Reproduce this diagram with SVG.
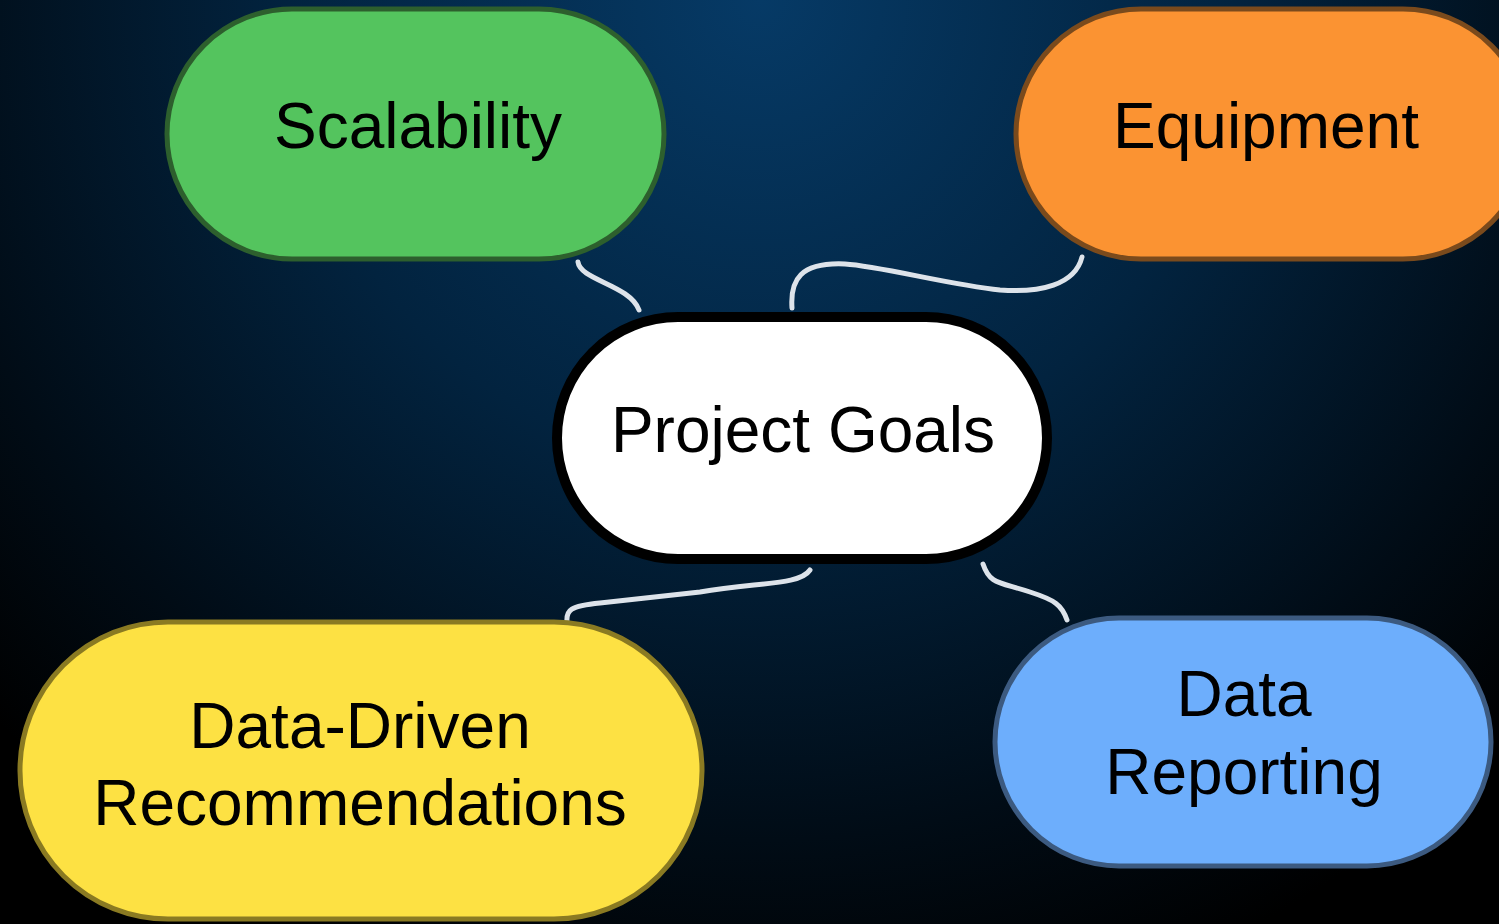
<svg xmlns="http://www.w3.org/2000/svg" width="1499" height="924" viewBox="0 0 1499 924">
<defs>
<radialGradient id="bg" cx="760" cy="0" r="1050" gradientUnits="userSpaceOnUse">
<stop offset="0" stop-color="#063a66"/>
<stop offset="0.45" stop-color="#02233f"/>
<stop offset="0.8" stop-color="#010c16"/>
<stop offset="1" stop-color="#000000"/>
</radialGradient>
<style>
.lbl{font-family:"Liberation Sans",Arial,sans-serif;font-size:64px;fill:#000;text-anchor:middle}
.edge{fill:none;stroke:#dde3ea;stroke-width:5;stroke-linecap:round}
</style>
</defs>
<rect width="1499" height="924" fill="url(#bg)"/>
<g id="connectors">
<path class="edge" d="M578,262 C580,280 630,285 639,310"/>
<path class="edge" d="M792,308 C790,280 800,262 845,264 C880,266 950,285 1000,290 C1040,293 1075,285 1082,257"/>
<path class="edge" d="M810,570 C800,585 760,582 700,592 L600,603 C570,606 566,610 567,622"/>
<path class="edge" d="M983,564 C990,585 1000,582 1030,592 C1055,600 1062,605 1067,620"/>
</g>
<g id="scalability">
<rect x="167" y="9" width="497" height="250" rx="125" fill="#54c45e" stroke="#2d5f2d" stroke-width="5"/>
<text class="lbl" x="418" y="148">Scalability</text>
</g>
<g id="equipment">
<rect x="1016" y="9" width="512" height="250" rx="125" fill="#fb9332" stroke="#7a4a1c" stroke-width="5"/>
<text class="lbl" x="1266" y="148">Equipment</text>
</g>
<g id="project-goals">
<rect x="557" y="317" width="490" height="242" rx="121" fill="#ffffff" stroke="#000000" stroke-width="10"/>
<text class="lbl" x="803" y="452">Project Goals</text>
</g>
<g id="data-driven">
<rect x="20" y="622" width="682" height="297" rx="148" fill="#fde143" stroke="#8a7a22" stroke-width="5"/>
<text class="lbl" x="360" y="748">Data-Driven</text>
<text class="lbl" x="360" y="825">Recommendations</text>
</g>
<g id="data-reporting">
<rect x="995" y="618" width="496" height="248" rx="124" fill="#6daefc" stroke="#3c5a80" stroke-width="5"/>
<text class="lbl" x="1244" y="716">Data</text>
<text class="lbl" x="1244" y="794">Reporting</text>
</g>
</svg>
